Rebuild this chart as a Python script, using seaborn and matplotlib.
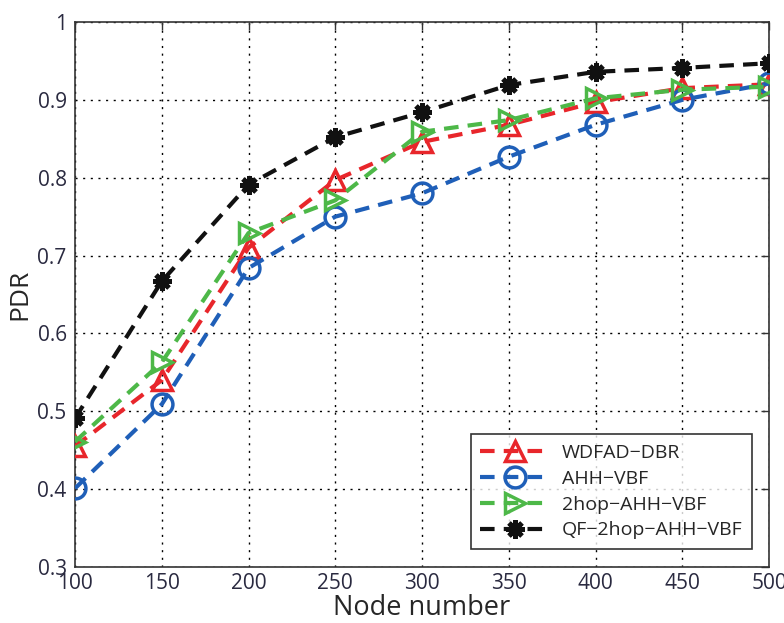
import matplotlib
matplotlib.use("Agg")
import matplotlib.pyplot as plt
import seaborn as sns
import pandas as pd

nodes = [100, 150, 200, 250, 300, 350, 400, 450, 500]
wdfad_dbr = [0.455, 0.540, 0.710, 0.797, 0.846, 0.868, 0.897, 0.915, 0.920]
ahh_vbf = [0.401, 0.509, 0.684, 0.750, 0.780, 0.827, 0.868, 0.900, 0.921]
hop2_ahh_vbf = [0.461, 0.563, 0.729, 0.771, 0.859, 0.874, 0.902, 0.913, 0.917]
qf_2hop_ahh_vbf = [0.491, 0.667, 0.791, 0.852, 0.884, 0.919, 0.936, 0.941, 0.947]
series_names = ["WDFAD\u2212DBR", "AHH\u2212VBF", "2hop\u2212AHH\u2212VBF", "QF\u22122hop\u2212AHH\u2212VBF"]
x_ticks = [100, 150, 200, 250, 300, 350, 400, 450, 500]
y_ticks = [0.3, 0.4, 0.5, 0.6, 0.7, 0.8, 0.9, 1.0]
y_tick_labels = ["0.3", "0.4", "0.5", "0.6", "0.7", "0.8", "0.9", "1"]

sns.set_style("white")
plt.rcParams['font.family'] = ['Open Sans', 'DejaVu Sans']

fig = plt.figure(figsize=(7.84, 6.23), dpi=100)
ax = fig.add_axes([0.0957, 0.0899, 0.8853, 0.8748])

styles = [
    dict(color="#e8262b", marker="^", ms=15),
    dict(color="#1f5fb8", marker="o", ms=15),
    dict(color="#4db848", marker=">", ms=15),
    dict(color="#111111", marker=(8, 2, 0), ms=13),
]
all_vals = [wdfad_dbr, ahh_vbf, hop2_ahh_vbf, qf_2hop_ahh_vbf]

for name, vals, st in zip(series_names, all_vals, styles):
    df = pd.DataFrame({"x": nodes, "y": vals})
    sns.lineplot(data=df, x="x", y="y", ax=ax, color=st["color"], label=name,
                 linestyle=(0, (3.5, 2.2)), linewidth=3, marker=st["marker"],
                 markersize=st["ms"], markerfacecolor="none",
                 markeredgecolor=st["color"], markeredgewidth=2.5 if st["marker"] != (8, 2, 0) else 3.5,
                 zorder=3)

ax.set_xlim(100, 500)
ax.set_ylim(0.3, 1.0)
ax.set_xticks(x_ticks)
ax.set_yticks(y_ticks)
ax.set_yticklabels(y_tick_labels)
ax.grid(True, linestyle=(0, (1.5, 4)), color="black", linewidth=1.0)
ax.tick_params(direction="in", length=6, width=1, labelsize=15, colors="#333333",
               top=True, right=True, labelcolor="#2a2a40", pad=6)
ax.tick_params(axis="x", pad=4)
for s in ax.spines.values():
    s.set_color("#333333")
    s.set_linewidth(1.2)
ax.set_xlabel("Node number", fontsize=19.5, labelpad=0)
ax.set_ylabel("PDR", fontsize=19, labelpad=4)

leg = ax.legend(loc="lower right", fontsize=14, handlelength=3.6, frameon=True,
                fancybox=False, edgecolor="black", borderpad=0.5, labelspacing=0.4,
                handletextpad=0.6, bbox_to_anchor=(0.99, 0.015))
leg.get_frame().set_linewidth(1.2)

fig.savefig("out.png", dpi=100)
